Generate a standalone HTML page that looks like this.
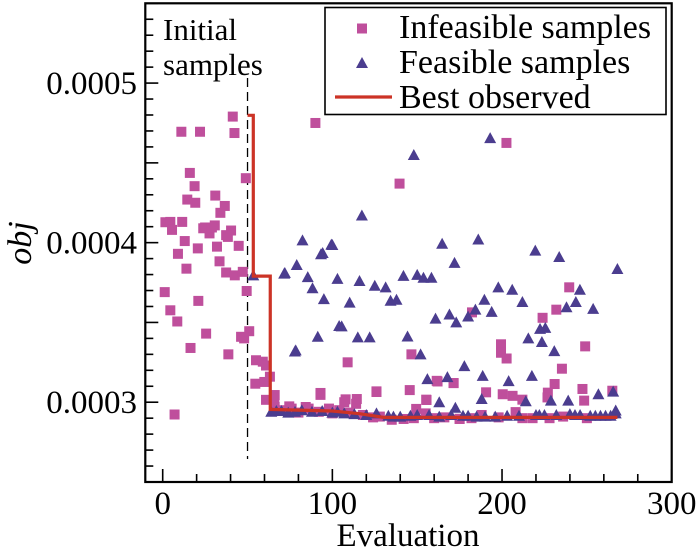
<!DOCTYPE html>
<html><head><meta charset="utf-8"><style>
html,body{margin:0;padding:0;background:#fff;}
svg{display:block;font-family:"Liberation Serif",serif;}
</style></head><body>
<svg id="chart" width="700" height="549" viewBox="0 0 700 549" xmlns="http://www.w3.org/2000/svg"></svg>
<script>
// ---- data (obj values in units of 1e-6) ----
const xTicks = [0, 100, 200, 300];
const xTickLabels = ["0", "100", "200", "300"];
const yTicks = [300, 400, 500];
const yTickLabels = ["0.0003", "0.0004", "0.0005"];
const infeasEval = [1.6,4.5,5.5,11.5,11,22,16,18.8,19.2,14.5,9,13,14,20.7,23.9,25,27.6,31,34,36.6,29,30.7,32,33.5,38.4,40.3,37.4,44.8,41.3,42.3,49,37.4,42.5,47.2,49.5,1.2,4.5,8.6,21,16.4,25.6,38.7,46.2,48,51,7,55,59,60.9,54.6,59.9,63.2,60.9,93,90,65.8,74.6,84.3,100,107.8,202.6,139.6,109,146.6,126,93,162,171.5,155.5,66,107,114.4,145.6,239.6,232,223.9,182.3,199.4,199.4,202.7,249,235.3,161.5,171.4,231,190.6,200.4,206.2,212,227,226.8,247.4,248.4,265,126,155.3,149.4,114,208,175,66,70,76,80,86,92,98,104,110,118,124,128,135,142,148,155,160,166,175,182,188,198,212,218,228,236,250];
const infeasObj = [412.8,413,408,413,469.5,469.5,443.7,435.4,425,427,393,401,383.7,396.4,409,409.5,405.8,429.5,418.7,423,409.5,410.8,397.5,388.3,403.6,407.6,404.7,398,479,468.7,440.4,381.3,379.5,381.7,369.7,369,357.6,350.6,363.5,334,343,330,341,340,344.5,292.3,326.3,325.4,323,311.6,312.7,316,301.5,304.6,475,301.8,297.4,297,293,301.8,462.5,437,325,330,306.4,305.8,313,312,301.4,304.5,300,302,307.6,372,358,352.9,356.3,336.3,331,327.4,335,321,313.4,312,311.4,306.2,305,304,301.6,306,303,308.3,301,307.2,306.8,301.6,295.8,299,293.8,289.6,297,295,296,293.5,296,294,296,295,293.5,292,290.5,291,289,289.5,290,293,290,290.5,289.5,290,292,290.5,290,290,290,291,290];
const feasEval = [53.4,71.6,79,82.4,85.5,88.3,93.3,95,99.4,103,91.4,104,77.9,100,94.3,72,110.2,116,125,131.4,134.3,137.8,141.9,150,153.7,158.4,172,105.5,115,122,144.3,78.4,152,160.8,169,173,180,184.3,177.8,167.8,156,193,148,117.4,164.7,186,219.6,233.7,268,197.8,206,212,245.9,189.6,193.9,238,243.5,253.7,222.4,225.5,215.5,223.5,230.8,188.6,203.9,217.6,188,163,214,228.8,239,256.8,265.5,172.5,267,64,67,70,74,78,82,88,94,100,103,107,113,120,126,133,136,140,146,150,157,163,170,177,180,185,190,196,203,210,220,222,225,232,240,243,246,252,255,258,261,264,267];
const feasObj = [379.5,380.6,386,401.4,378.4,371.4,392.7,364.6,398.8,377.3,341,347.8,331.8,398.5,393.5,381,362.4,376,373,372,363.6,364.2,379.2,379.8,378,378,387.3,347.5,340.6,340.6,341.2,332.5,330,352.4,355,350,353.7,358,322.6,315.7,314.5,465.5,454.9,417,399.3,402,395,391,383.5,372,370.5,362.8,370.5,364.2,356.6,359.5,362.8,358.5,346,346.6,340,337.7,332,316.5,313.2,316.5,302,300,300.6,301,301,305,306.6,296.5,294.8,294,294.5,294.5,293.5,294,295,294,294.5,293.5,294,293,292.5,292,293,291.5,291,291,291.5,292,292,291,292,291.5,291.5,291,291,291,291.5,291.5,292,292,292,292,292.5,292,292,291.5,291.5,291.5,291.5,291.5,293];
const bestEval = [50,53.4,53.4,63.4,63.4,100,116,130,268];
const bestObj = [479.8,479.8,379,379,295.5,294.5,292.8,290.5,290.5];

// ---- axes ----
const L=145.3,R=671.7,T=3.3,B=482;
const X0=-10.25,X1=300,Y0=250,Y1=550;
const sx=v=>L+(v-X0)/(X1-X0)*(R-L);
const sy=v=>B-(v-Y0)/(Y1-Y0)*(B-T);
const NS="http://www.w3.org/2000/svg";
const svg=document.getElementById('chart');
function mk(tag,attrs,parent){const e=document.createElementNS(NS,tag);for(const k in attrs)e.setAttribute(k,attrs[k]);(parent||svg).appendChild(e);return e;}

// ticks
const gT=mk('g',{});


for(let v=0;v<=300;v+=20){const x=sx(v);const len=(v%100===0)?13:8;mk('line',{x1:x,y1:B,x2:x,y2:B-len,stroke:'#000','stroke-width':1.6},gT);}
for(let v=250;v<=550;v+=10){const y=sy(v);const len=(v%50===0)?13:8;mk('line',{x1:L,y1:y,x2:L+len,y2:y,stroke:'#000','stroke-width':1.6},gT);}

// tick labels
xTicks.forEach((v,i)=>{const t=mk('text',{x:sx(v),y:514,'text-anchor':'middle','font-size':33,fill:'#000'});


t.textContent=xTickLabels[i];});
yTicks.forEach((v,i)=>{const t=mk('text',{x:137,y:sy(v)+11,'text-anchor':'end','font-size':33,fill:'#000'});


t.textContent=yTickLabels[i];});

// axis titles
const xt=mk('text',{x:408,y:546,'text-anchor':'middle','font-size':33,fill:'#000'});


xt.textContent='Evaluation';
const yt=mk('text',{x:0,y:0,'text-anchor':'middle','font-size':34,'font-style':'italic',fill:'#000',transform:'translate(31,243) rotate(-90)'});


yt.textContent='obj';

// dashed separator
const dl=mk('line',{x1:sx(50),y1:78,x2:sx(50),y2:459,stroke:'#000','stroke-width':1.3,'stroke-dasharray':'9,5'});


const an=mk('text',{x:163,y:40,'font-size':31,fill:'#000'});


an.innerHTML='<tspan x="163" dy="0">Initial</tspan><tspan x="163" dy="35">samples</tspan>';

// squares
const gS=mk('g',{fill:'#bf4f9c'});


infeasEval.forEach((e,i)=>{const r=mk('rect',{x:sx(e)-5,y:sy(infeasObj[i])-5,width:10,height:10},gS);

});
// triangles
const gF=mk('g',{fill:'#4b3d8f'});


feasEval.forEach((e,i)=>{const x=sx(e),y=sy(feasObj[i]);const p=mk('polygon',{points:`${x},${y-6} ${x-6},${y+5} ${x+6},${y+5}`},gF);

});
// best line
const bl=mk('polyline',{points:bestEval.map((e,i)=>sx(e)+','+sy(bestObj[i])).join(' '),fill:'none',stroke:'#cc3326','stroke-width':3.2});



// frame
const fr=mk('rect',{x:L,y:T,width:R-L,height:B-T,fill:'none',stroke:'#000','stroke-width':2.2});



// legend
const lg=mk('g',{});


mk('rect',{x:325,y:7.5,width:341,height:107,fill:'#fff',stroke:'#000','stroke-width':1.6},lg);
const e1=mk('g',{},lg);


mk('rect',{x:357,y:23.5,width:10,height:10,fill:'#bf4f9c'},e1);
mk('text',{x:399,y:38,'font-size':34,fill:'#000'},e1).textContent='Infeasible samples';
const e2=mk('g',{},lg);


mk('polygon',{points:'362,57 356,68 368,68',fill:'#4b3d8f'},e2);
mk('text',{x:399,y:73,'font-size':34,fill:'#000'},e2).textContent='Feasible samples';
const e3=mk('g',{},lg);


mk('line',{x1:335,y1:97,x2:392,y2:97,stroke:'#cc3326','stroke-width':3.2},e3);
mk('text',{x:399,y:108,'font-size':34,fill:'#000'},e3).textContent='Best observed';
</script>
</body></html>
